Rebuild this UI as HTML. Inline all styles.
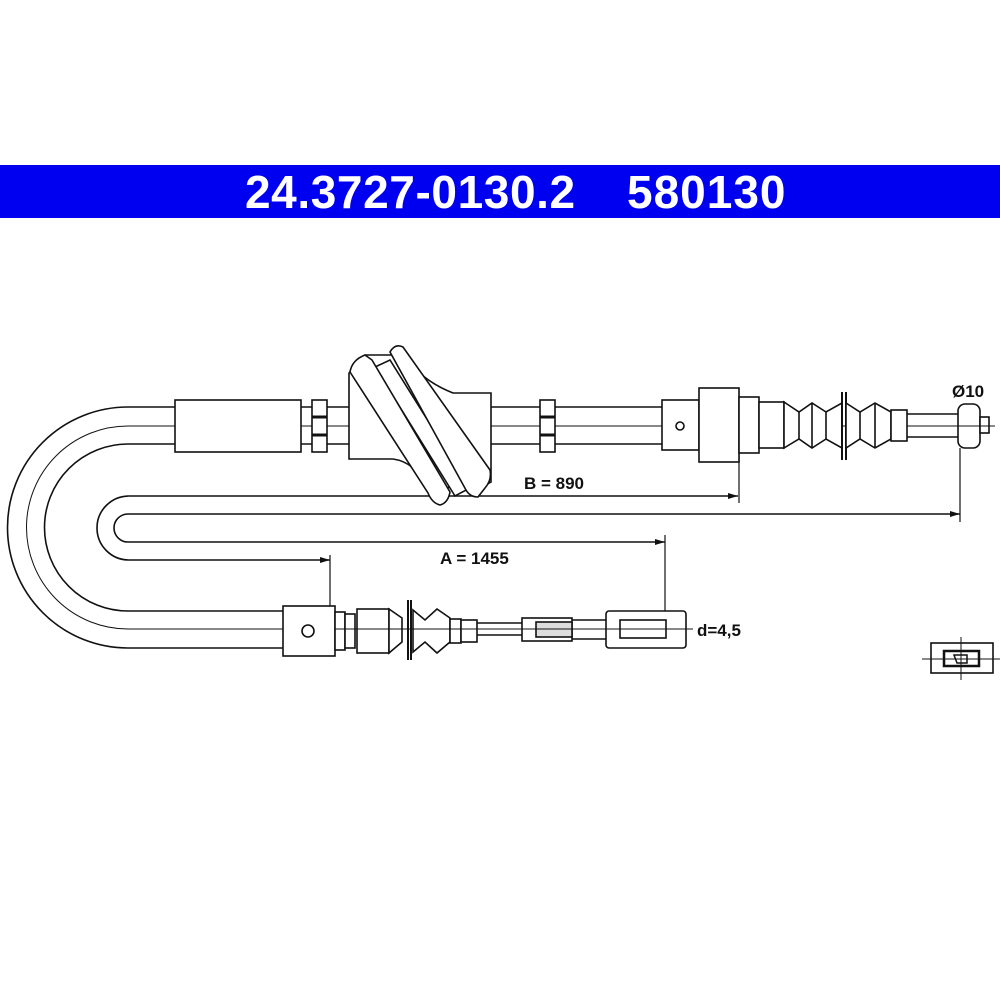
<!DOCTYPE html>
<html><head><style>body{margin:0;background:#fff}svg{display:block}</style></head><body>
<svg width="1000" height="1000" viewBox="0 0 1000 1000" xmlns="http://www.w3.org/2000/svg" font-family="Liberation Sans, sans-serif">
<rect x="0" y="165" width="1000" height="53" fill="#0000f0"/>
<text x="245" y="208" font-size="46" font-weight="bold" fill="#fff" letter-spacing="0.6">24.3727-0130.2</text>
<text x="627" y="208" font-size="46" font-weight="bold" fill="#fff" letter-spacing="1">580130</text>
<g fill="none" stroke="#111" stroke-width="1.6">
<path d="M175 407 H128 A120 120 0 0 0 128 648 H283"/>
<path d="M175 444 H128 A83 83 0 0 0 128 611 H283"/>
<path d="M175 426 H128 A101 101 0 0 0 128 629 H283" stroke-width="1"/>
<path d="M301 407 H349 M301 444 H349 M491 407 H662 M491 444 H662"/>
<path d="M301 426 H995" stroke-width="1"/>
<rect x="175" y="400" width="126" height="52" fill="#fff"/>
<rect x="312" y="400" width="15" height="52" fill="#fff"/>
<path d="M312 417 H327 M312 435 H327" stroke-width="3"/>
<rect x="540" y="400" width="15" height="52" fill="#fff"/>
<path d="M540 417 H555 M540 435 H555" stroke-width="3"/>
<path d="M738 496 H129 A32 32 0 0 0 129 560 H330"/>
<path d="M960 514 H128 A14 14 0 0 0 128 542 H665"/>
<path d="M739 455 V503 M960 448 V522 M665 535 V611 M330 555 V606" stroke-width="1.2"/>
<!-- grommet -->
<path d="M349 373 V459 H393 Q415 462 427 487 L480 488 L491 482 V393 H453 Q420 380 405 355 L365 355 Z" fill="#fff"/>
<path d="M375 367 L390 360 L470 488 L455 496 Z" fill="#fff"/>
<path d="M350 372 Q352 360 365 355 L372 360 L450 492 Q448 503 440 505 Q432 503 428 493 Z" fill="#fff"/>
<path d="M390 352 Q395 343 403 347 L490 470 Q492 480 485 488 L478 497 Q470 497 466 490 Z" fill="#fff"/>
<!-- right fitting -->
<rect x="662" y="400" width="37" height="50" fill="#fff"/>
<circle cx="680" cy="426" r="4"/>
<rect x="699" y="388" width="40" height="74" fill="#fff"/>
<rect x="739" y="397" width="20" height="56" fill="#fff"/>
<rect x="759" y="402" width="25" height="46" fill="#fff"/>
<path d="M784 402 L799 412 L812 403 L826 412 L842 403 L842 448 L826 439 L812 448 L799 439 L784 448 Z" fill="#fff"/>
<path d="M799 412 V439 M812 403 V448 M826 412 V439"/>
<path d="M842 392 V460 M846 392 V460" stroke-width="2"/>
<path d="M846 403 L860 412 L875 403 L891 412 V439 L875 448 L860 439 L846 448 Z" fill="#fff"/>
<path d="M860 412 V439 M875 403 V448"/>
<rect x="891" y="410" width="16" height="31" fill="#fff"/>
<path d="M907 414 H958 M907 437 H958"/>
<rect x="958" y="404" width="22" height="44" rx="7" fill="#fff"/>
<rect x="980" y="417" width="9" height="16" fill="#fff"/>
<path d="M958 426 H995" stroke-width="1"/>
<!-- bottom fitting -->
<rect x="283" y="606" width="52" height="50" fill="#fff"/>
<circle cx="308" cy="631" r="6"/>
<rect x="335" y="612" width="10" height="38" fill="#fff"/>
<rect x="345" y="614" width="10" height="34" fill="#fff"/>
<rect x="357" y="609" width="32" height="44" fill="#fff"/>
<path d="M389 609 L402 618 V642 L389 653 Z" fill="#fff"/>
<path d="M408 600 V660 M411 600 V660" stroke-width="2"/>
<path d="M413 610 L425 620 L437 609 L450 618 V642 L437 653 L425 642 L413 652 Z" fill="#fff"/>
<rect x="450" y="619" width="11" height="24" fill="#fff"/>
<rect x="461" y="620" width="16" height="22" fill="#fff"/>
<path d="M477 623 H522 M477 635 H522"/>
<rect x="522" y="618" width="50" height="23" fill="#fff"/>
<rect x="536" y="622" width="36" height="15" fill="#ddd"/>
<path d="M572 620 H606 M572 639 H606"/>
<rect x="606" y="611" width="80" height="37" rx="3" fill="#fff"/>
<rect x="620" y="620" width="46" height="18" fill="#fff"/>
<path d="M335 629 H693" stroke-width="1"/>
<rect x="931" y="643" width="62" height="30"/>
<rect x="944" y="651" width="35" height="15" stroke-width="2.5"/>
<path d="M922 659 H1000 M961 637 V680" stroke-width="1"/>
<path d="M954 655 H967 V663 H957 Z" stroke-width="1.5"/>
</g>
<g fill="#111" stroke="none">
<path d="M738 496 l-10 -3 v6 Z M960 514 l-10 -3 v6 Z M665 542 l-10 -3 v6 Z M330 560 l-10 -3 v6 Z"/>
</g>
<g font-weight="bold" font-size="17" fill="#111">
<text x="524" y="489">B = 890</text>
<text x="440" y="564">A = 1455</text>
<text x="697" y="636">d=4,5</text>
<text x="952" y="397">Ø10</text>
</g>
</svg>
</body></html>
